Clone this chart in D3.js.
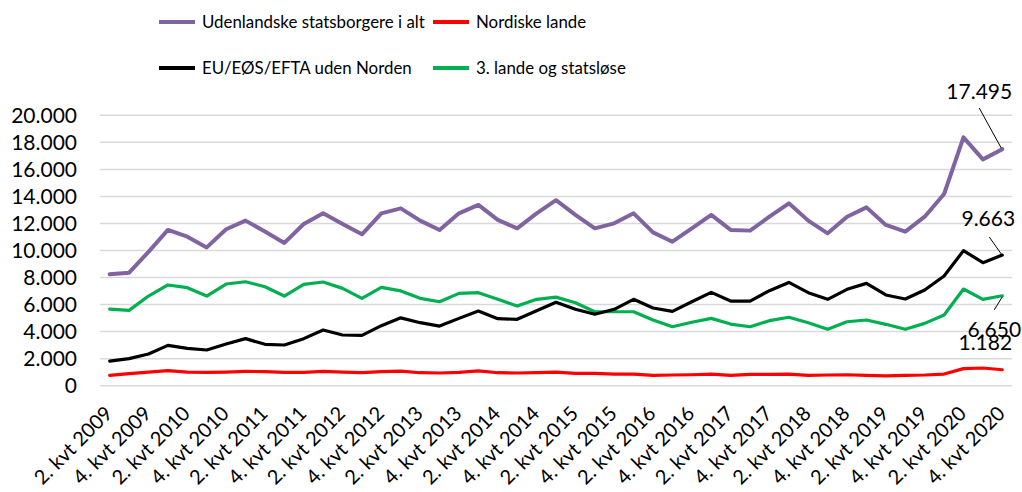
<!DOCTYPE html>
<html><head><meta charset="utf-8">
<script src="https://cdn.jsdelivr.net/npm/d3@7"></script>
<style>
html,body{margin:0;padding:0;background:#fff;}
svg{display:block;font-family:Lato, "Open Sans", sans-serif;}
</style></head>
<body><svg id="c" width="1022" height="492"></svg>
<script>
const quarters = [];
for (let y = 2009; y <= 2020; y++) for (let q = 1; q <= 4; q++) { if (y === 2009 && q === 1) continue; quarters.push(q + ". kvt " + y); }

const seriesNames = ["Udenlandske statsborgere i alt", "Nordiske lande", "EU/EØS/EFTA uden Norden", "3. lande og statsløse"];
const seriesColors = ["#8064A2", "#FF0000", "#000000", "#00B050"];

const total = [8240,8360,9900,11520,11020,10230,11570,12210,11400,10560,11960,12750,11960,11200,12750,13120,12210,11520,12750,13370,12260,11640,12750,13720,12630,11640,12010,12750,11340,10650,11640,12630,11520,11470,12500,13490,12210,11270,12500,13190,11890,11390,12500,14180,18370,16740,17495];
const nordic = [760,890,1010,1110,1010,990,1010,1060,1040,990,990,1060,1010,960,1040,1080,960,940,990,1090,960,940,960,1010,910,910,860,860,760,790,810,860,760,840,840,860,760,790,810,760,720,760,790,860,1260,1310,1182];
const eu = [1820,2000,2340,2980,2760,2640,3080,3480,3060,3010,3480,4120,3750,3720,4440,5020,4660,4410,4980,5520,4960,4910,5550,6170,5650,5280,5650,6390,5750,5500,6210,6900,6260,6260,7030,7640,6880,6390,7130,7570,6710,6410,7080,8110,9990,9100,9663];
const third = [5670,5570,6630,7450,7250,6630,7520,7690,7320,6630,7500,7670,7200,6460,7270,7010,6460,6210,6830,6880,6390,5890,6390,6550,6140,5470,5470,5470,4860,4360,4690,4980,4560,4360,4810,5060,4660,4170,4730,4860,4540,4170,4610,5230,7150,6390,6650];

const yTicks = [0,2000,4000,6000,8000,10000,12000,14000,16000,18000,20000];
const endLabels = ["17.495", "1.182", "9.663", "6.650"];

const svg = d3.select("#c");
const L = 100, R = 1012, T = 115.3, B = 385.7;
const x = d3.scaleBand().domain(quarters).range([L, R]).padding(0);
const cx = d => x(d) + x.bandwidth() / 2;
const y = d3.scaleLinear().domain([0, 20000]).range([B, T]);
const fmt = v => d3.format(",")(v).replace(/,/g, ".");

// gridlines
svg.append("g").selectAll("line").data(yTicks).join("line")
  .attr("x1", L).attr("x2", R).attr("y1", d => y(d)).attr("y2", d => y(d))
  .attr("stroke", "#D9D9D9").attr("stroke-width", 1.5);

// y axis
const ya = svg.append("g").attr("transform", `translate(${L - 23},0)`)
  .call(d3.axisLeft(y).tickValues(yTicks).tickFormat(fmt).tickSize(0).tickPadding(0));
ya.select(".domain").remove();
ya.selectAll("text").attr("font-family", "Lato").attr("font-size", 21).attr("fill", "#000");

// x axis
const xa = svg.append("g").attr("transform", `translate(0,${B})`)
  .call(d3.axisBottom(x).tickValues(quarters.filter((d, i) => i % 2 === 0)).tickSize(0));
xa.select(".domain").remove();
xa.selectAll("text")
  .attr("font-family", "Lato").attr("font-size", 20).attr("fill", "#000")
  .attr("text-anchor", "end").attr("dy", 0).attr("y", 0)
  .attr("transform", "translate(4,29) rotate(-45)");

// lines
const all = [total, nordic, eu, third];
const widths = [4, 3.2, 3.2, 3.2];
const line = d3.line().x((d, i) => cx(quarters[i])).y(d => y(d));
const order = [1, 3, 2, 0];
order.forEach(k => {
  svg.append("path").datum(all[k]).attr("d", line).attr("fill", "none")
    .attr("stroke", seriesColors[k]).attr("stroke-width", widths[k])
    .attr("stroke-linejoin", "round").attr("stroke-linecap", "round");
});

// end labels
const last = quarters.length - 1;
const px = cx(quarters[last]);
const lab = [
  {k: 0, dx: -23, dy: -58, lx1: -23, ly1: -41, lx2: -1, ly2: -1},
  {k: 1, dx: -17, dy: -27, lx1: null},
  {k: 2, dx: -14, dy: -36, lx1: -13, ly1: -18, lx2: -1, ly2: -1},
  {k: 3, dx: -8, dy: 34, lx1: -8, ly1: 14, lx2: 0, ly2: 1}
];
lab.forEach((o, j) => {
  const py = y(all[o.k][last]);
  if (o.lx1 !== null) svg.append("line").attr("x1", px + o.lx1).attr("y1", py + o.ly1)
    .attr("x2", px + o.lx2).attr("y2", py + o.ly2).attr("stroke", "#000").attr("stroke-width", 1);
  svg.append("text").attr("x", px + o.dx).attr("y", py + o.dy).attr("dy", "0.35em")
    .attr("text-anchor", "middle").attr("font-size", 21).attr("fill", "#000")
    .text(endLabels[j]);
});

// legend (font size fitted to the reference width of the first entry)
const probe = svg.append("text").attr("font-size", 20).text(seriesNames[0]);
const legSize = 20 * 223 / probe.node().getComputedTextLength();
probe.remove();
const leg = [
  {k: 0, x: 159, y: 22}, {k: 1, x: 433, y: 22},
  {k: 2, x: 159, y: 68}, {k: 3, x: 433, y: 68}
];
leg.forEach(o => {
  svg.append("line").attr("x1", o.x).attr("x2", o.x + 36).attr("y1", o.y).attr("y2", o.y)
    .attr("stroke", seriesColors[o.k]).attr("stroke-width", 4);
  svg.append("text").attr("x", o.x + 43).attr("y", o.y).attr("dy", "0.35em")
    .attr("font-size", legSize).attr("fill", "#000").text(seriesNames[o.k]);
});
</script></body></html>
